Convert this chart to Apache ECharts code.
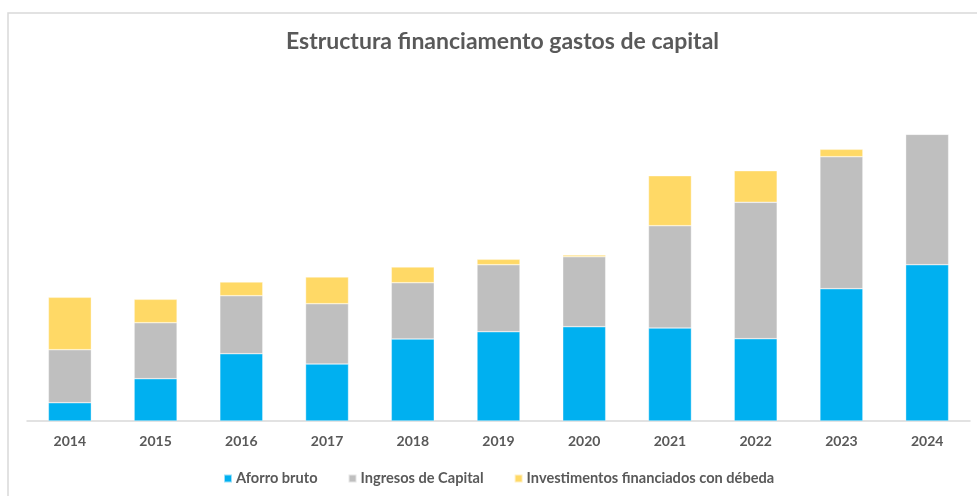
<!DOCTYPE html>
<html>
<head>
<meta charset="utf-8">
<script src="https://cdn.jsdelivr.net/npm/echarts@6/dist/echarts.min.js"></script>
<style>
  html, body { margin: 0; padding: 0; background: #ffffff; }
  #chart { width: 977px; height: 496px; }
</style>
</head>
<body>
<div id="chart"></div>
<script>
// Years on the category axis
const years = ['2014', '2015', '2016', '2017', '2018', '2019', '2020', '2021', '2022', '2023', '2024'];

// Financing sources per year (relative amounts)
const aforroBruto = [18.3, 42.3, 67.3, 57.0, 82.0, 89.3, 94.3, 93.0, 82.3, 132.3, 156.3];
const ingresosCapital = [53.0, 56.0, 58.0, 60.3, 56.3, 67.0, 70.0, 102.3, 136.4, 132.0, 130.4];
const investDebeda = [52.4, 23.4, 13.7, 26.7, 15.7, 5.4, 1.7, 50.0, 31.6, 7.4, 0];

const seriesNames = ['Aforro bruto', 'Ingresos de Capital', 'Investimentos financiados con débeda'];
const seriesColors = ['#00B0F0', '#BFBFBF', '#FFD966'];
const seriesData = [aforroBruto, ingresosCapital, investDebeda];

const chart = echarts.init(document.getElementById('chart'), null, { renderer: 'canvas' });

const font = 'Lato, "Open Sans", sans-serif';

chart.setOption({
  backgroundColor: '#ffffff',
  animation: false,
  graphic: [{
    type: 'rect',
    shape: { x: 8, y: 13, width: 990, height: 500 },
    style: { fill: 'none', stroke: '#d9d9d9', lineWidth: 1.5 },
    silent: true
  }],
  title: {
    text: 'Estructura financiamento gastos de capital',
    left: 281,
    top: 25,
    textStyle: { fontFamily: font, fontSize: 23, fontWeight: 'bold', color: '#595959' }
  },
  legend: {
    top: 466,
    left: 218,
    itemWidth: 8,
    itemHeight: 8,
    itemGap: 30,
    icon: 'rect',
    textStyle: { fontFamily: font, fontSize: 14.6, fontWeight: 'bold', color: '#595959', padding: [0, 0, 0, -1] },
    data: seriesNames
  },
  grid: { left: 27, right: 7, top: 81, bottom: 75, containLabel: false },
  xAxis: {
    type: 'category',
    data: years,
    axisLine: { lineStyle: { color: '#d9d9d9', width: 1.5 } },
    axisTick: { show: false },
    axisLabel: { fontFamily: font, fontSize: 14, fontWeight: 'bold', color: '#595959', margin: 13 }
  },
  yAxis: {
    type: 'value',
    min: 0,
    max: 340,
    show: false,
    splitLine: { show: false }
  },
  series: seriesData.map((d, i) => ({
    name: seriesNames[i],
    type: 'bar',
    stack: 'total',
    barWidth: 43,
    data: d,
    itemStyle: { color: seriesColors[i], borderColor: 'rgba(255,255,255,0.6)', borderWidth: 0.6 }
  }))
});
</script>
</body>
</html>
